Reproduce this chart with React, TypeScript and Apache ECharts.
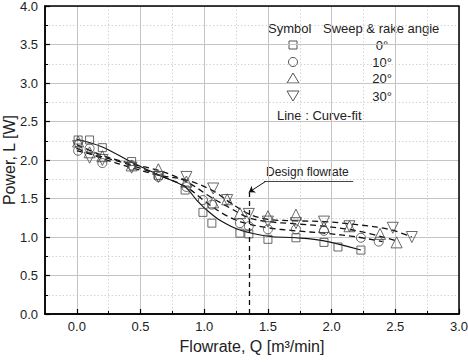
import React, { useEffect, useRef } from "react";
import * as echarts from "echarts";

// Measured points (Flowrate Q [m3/min], Power L [W])
const q0 = [0.01, 0.1, 0.2, 0.43, 0.64, 0.85, 0.99, 1.06, 1.28, 1.35, 1.5, 1.72, 1.94, 2.05, 2.23];
const l0 = [2.26, 2.26, 2.16, 1.98, 1.8, 1.61, 1.32, 1.18, 1.05, 1.04, 0.97, 0.99, 0.93, 0.87, 0.83];
const q10 = [0.01, 0.1, 0.2, 0.43, 0.64, 0.86, 0.99, 1.06, 1.28, 1.35, 1.5, 1.72, 1.94, 2.23, 2.37];
const l10 = [2.12, 2.15, 1.96, 1.93, 1.78, 1.65, 1.48, 1.42, 1.18, 1.14, 1.1, 1.1, 1.08, 0.99, 0.94];
const q20 = [0.01, 0.1, 0.2, 0.43, 0.64, 0.86, 1.07, 1.18, 1.28, 1.5, 1.72, 1.94, 2.14, 2.38, 2.51];
const l20 = [2.24, 2.1, 2.05, 1.93, 1.88, 1.72, 1.45, 1.49, 1.31, 1.27, 1.29, 1.13, 1.14, 1.04, 0.93];
const q30 = [0.01, 0.1, 0.2, 0.43, 0.64, 0.86, 1.07, 1.18, 1.35, 1.5, 1.72, 1.94, 2.14, 2.48, 2.63];
const l30 = [2.18, 2.03, 2.0, 1.9, 1.78, 1.78, 1.63, 1.48, 1.3, 1.2, 1.18, 1.2, 1.14, 1.12, 1.0];

// Curve-fit lines
const fq0 = [0.0, 0.2, 0.43, 0.65, 0.85, 0.94, 1.02, 1.13, 1.28, 1.5, 1.72, 1.94, 2.23];
const fl0 = [2.27, 2.17, 1.97, 1.8, 1.65, 1.48, 1.35, 1.21, 1.09, 1.01, 0.99, 0.95, 0.83];
const fq10 = [0.0, 0.2, 0.43, 0.65, 0.86, 1.0, 1.15, 1.3, 1.5, 1.72, 1.94, 2.2, 2.4];
const fl10 = [2.12, 2.04, 1.93, 1.8, 1.65, 1.47, 1.3, 1.19, 1.12, 1.08, 1.05, 1.0, 0.94];
const fq20 = [0.0, 0.2, 0.43, 0.65, 0.86, 1.05, 1.2, 1.35, 1.5, 1.72, 1.94, 2.2, 2.51];
const fl20 = [2.2, 2.06, 1.95, 1.86, 1.72, 1.52, 1.38, 1.25, 1.2, 1.17, 1.14, 1.08, 0.95];
const fq30 = [0.0, 0.2, 0.43, 0.65, 0.86, 1.07, 1.2, 1.35, 1.5, 1.72, 1.94, 2.2, 2.45, 2.63];
const fl30 = [2.15, 2.02, 1.9, 1.8, 1.74, 1.6, 1.45, 1.3, 1.23, 1.21, 1.2, 1.16, 1.1, 1.0];

const designQ = 1.35;
const angleLabels = ["0°", "10°", "20°", "30°"];

const zip = (a: number[], b: number[]) => a.map((v, i) => [v, b[i]]);

const FONT = "Liberation Sans, Arial, sans-serif";
const INK = "#222";

export default function App() {
  const ref = useRef<HTMLDivElement>(null);
  useEffect(() => {
    if (!ref.current) return;
    const chart = echarts.init(ref.current, null, { renderer: "svg" });
    const plotL = 45, plotR = 9, plotT = 6, plotB = 49;
    const plotW = 468 - plotL - plotR;
    const left2 = plotL + (0.25 / 3.25) * plotW;

    const markerStyle = { color: "rgba(255,255,255,0)", borderColor: "#444", borderWidth: 1 };
    const scatter = (name: string, data: number[][], symbol: string, size: number, rot = 0) => ({
      type: "scatter", name, data, symbol, symbolSize: size, symbolRotate: rot,
      itemStyle: markerStyle, z: 4, xAxisIndex: 0, yAxisIndex: 0,
    });
    const fit = (data: number[][], dashed: boolean) => ({
      type: "line", data, smooth: 0.35, showSymbol: false, symbol: "none", z: 3,
      lineStyle: { color: "#111", width: dashed ? 1.3 : 1.1, type: dashed ? [6, 4] : "solid" },
      xAxisIndex: 0, yAxisIndex: 0,
    });

    const legendX = 293;
    const legendY = [45, 62, 78, 96];
    const lg: any[] = [
      { type: "text", x: 9, y: 160, rotation: Math.PI / 2, style: { text: "Power, L [W]", font: `16px ${FONT}`, fill: INK, align: "center", verticalAlign: "middle" } },
      { type: "text", left: 268, top: 22, style: { text: "Symbol", font: `13px ${FONT}`, fill: INK } },
      { type: "text", left: 323, top: 22, style: { text: "Sweep & rake angle", font: `13px ${FONT}`, fill: INK } },
      { type: "rect", shape: { x: legendX - 4, y: legendY[0] - 4, width: 8, height: 8 }, style: { fill: "none", stroke: "#555", lineWidth: 1 } },
      { type: "circle", shape: { cx: legendX, cy: legendY[1], r: 4.5 }, style: { fill: "none", stroke: "#555", lineWidth: 1 } },
      { type: "polygon", shape: { points: [[legendX, legendY[2] - 5], [legendX + 6, legendY[2] + 5], [legendX - 6, legendY[2] + 5]] }, style: { fill: "none", stroke: "#555", lineWidth: 1 } },
      { type: "polygon", shape: { points: [[legendX - 6, legendY[3] - 5], [legendX + 6, legendY[3] - 5], [legendX, legendY[3] + 5]] }, style: { fill: "none", stroke: "#555", lineWidth: 1 } },
      { type: "text", left: 277, top: 109, style: { text: "Line : Curve-fit", font: `13px ${FONT}`, fill: INK } },
      { type: "text", left: 266, top: 166, style: { text: "Design flowrate", font: `12px ${FONT}`, fill: INK } },
    ];
    angleLabels.forEach((t, i) => {
      lg.push({ type: "text", x: 382, y: legendY[i], style: { text: t, font: `13px ${FONT}`, fill: INK, align: "center", verticalAlign: "middle" } });
    });

    chart.setOption({
      animation: false,
      backgroundColor: "#fff",
      textStyle: { fontFamily: FONT },
      grid: [
        { left: plotL, right: plotR, top: plotT, bottom: plotB, show: true, borderColor: "#000", borderWidth: 1.5, backgroundColor: "transparent", z: 1, containLabel: false, outerBoundsMode: "none" },
        { left: left2, right: plotR, top: plotT, bottom: plotB, show: false, containLabel: false, outerBoundsMode: "none" },
      ],
      xAxis: [
        {
          type: "value", gridIndex: 0, min: -0.25, max: 3, interval: 0.25,
          axisLine: { show: true, onZero: false, lineStyle: { color: "#000", width: 1.5 } },
          axisTick: { show: false }, axisLabel: { show: false }, splitLine: { show: false },
          name: "Flowrate, Q [m³/min]", nameLocation: "middle", nameGap: 24,
          nameTextStyle: { fontSize: 16, color: INK, fontFamily: FONT },
        },
        {
          type: "value", gridIndex: 1, min: 0, max: 3, interval: 0.5,
          axisLine: { show: false, onZero: false },
          axisTick: { show: true, inside: true, length: 5, lineStyle: { color: "#000", width: 1.2 } },
          minorTick: { show: true, splitNumber: 2, length: 3, lineStyle: { color: "#000", width: 1 } },
          axisLabel: { color: INK, fontSize: 13, margin: 6, formatter: (v: number) => v.toFixed(1) },
          splitLine: { show: true, lineStyle: { color: "#c4c4c4", width: 1 } },
          minorSplitLine: { show: true, lineStyle: { color: "#d4d4d4", width: 1, type: [1.5, 2] } },
          z: 0,
        },
      ],
      yAxis: [
        {
          type: "value", gridIndex: 0, min: 0, max: 4, interval: 0.5,
          axisLine: { show: true, onZero: false, lineStyle: { color: "#000", width: 1.5 } },
          axisTick: { show: true, inside: true, length: 5, lineStyle: { color: "#000", width: 1.2 } },
          minorTick: { show: true, splitNumber: 2, length: 3, lineStyle: { color: "#000", width: 1 } },
          axisLabel: { color: INK, fontSize: 13, margin: 7, formatter: (v: number) => v.toFixed(1) },
          splitLine: { show: true, lineStyle: { color: "#c4c4c4", width: 1 } },
          minorSplitLine: { show: true, lineStyle: { color: "#d4d4d4", width: 1, type: [1.5, 2] } },
        },
        { type: "value", gridIndex: 1, min: 0, max: 4, show: false, axisLine: { onZero: false } },
      ],
      series: [
        fit(zip(fq0, fl0), false),
        fit(zip(fq10, fl10), true),
        fit(zip(fq20, fl20), true),
        fit(zip(fq30, fl30), true),
        scatter("0°", zip(q0, l0), "rect", 8),
        scatter("10°", zip(q10, l10), "circle", 9),
        scatter("20°", zip(q20, l20), "triangle", 11),
        scatter("30°", zip(q30, l30), "triangle", 11, 180),
        {
          type: "line", data: [], xAxisIndex: 0, yAxisIndex: 0, z: 5,
          markLine: {
            silent: true, animation: false, label: { show: false },
            symbol: ["none", "none"],
            data: [
              [{ coord: [designQ, 0], lineStyle: { type: [5, 4], width: 1.3, color: "#111" } }, { coord: [designQ, 1.58] }],
              [{ coord: [1.47, 1.72], lineStyle: { type: "solid", width: 1, color: "#444" } }, { coord: [2.17, 1.72] }],
              [{ coord: [1.48, 1.72], symbol: "none", lineStyle: { type: "solid", width: 1, color: "#111" } }, { coord: [designQ, 1.58], symbol: "arrow", symbolSize: 6 }],
            ],
          },
        },
      ],
      graphic: lg,
    });
    return () => chart.dispose();
  }, []);
  return <div ref={ref} style={{ position: "fixed", left: 0, top: 0, width: 468, height: 363 }} />;
}
